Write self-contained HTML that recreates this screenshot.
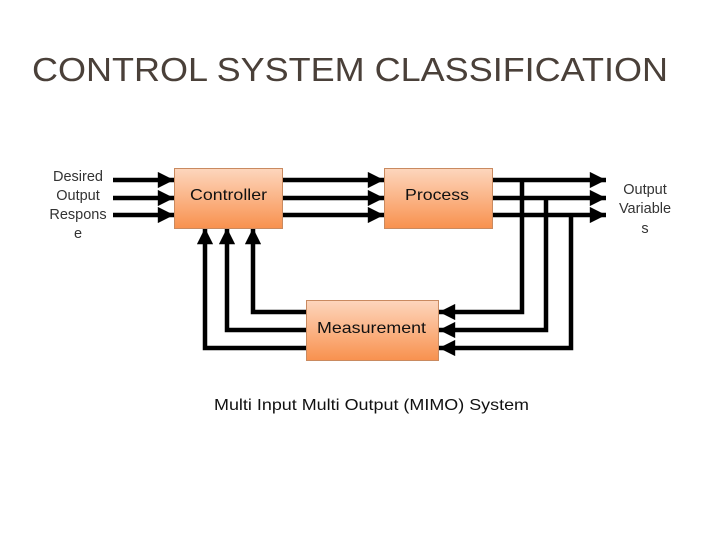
<!DOCTYPE html>
<html><head><style>
body{margin:0;width:720px;height:540px;background:#fff;overflow:hidden}
svg,text{font-family:"Liberation Sans",Arial,sans-serif}
</style></head><body>
<svg width="720" height="540" xmlns="http://www.w3.org/2000/svg" font-family="Liberation Sans, sans-serif">
<defs>
<linearGradient id="g" x1="0" y1="0" x2="0" y2="1">
<stop offset="0" stop-color="#fdd6bd"/><stop offset="1" stop-color="#f8914e"/>
</linearGradient>
<marker id="a" viewBox="0 0 10 10" refX="10" refY="5" markerWidth="4.2" markerHeight="3.6" markerUnits="strokeWidth" orient="auto"><path d="M0,0L10,5L0,10z" fill="#000"/></marker>
</defs>
<text x="32" y="81" font-size="33" font-weight="300" fill="#4a4039" textLength="636" lengthAdjust="spacingAndGlyphs">CONTROL SYSTEM CLASSIFICATION</text>
<g font-size="14.5" fill="#333" text-anchor="middle">
<text x="78" y="181">Desired</text><text x="78" y="200">Output</text><text x="78" y="219">Respons</text><text x="78" y="238">e</text>
<text x="645" y="194">Output</text><text x="645" y="213">Variable</text><text x="645" y="233">s</text>
</g>
<g stroke="#000" stroke-width="4.5" fill="none" marker-end="url(#a)">
<path d="M113 180H174"/><path d="M113 198H174"/><path d="M113 215H174"/>
<path d="M282 180H384"/><path d="M282 198H384"/><path d="M282 215H384"/>
<path d="M492 180H606"/><path d="M492 198H606"/><path d="M492 215H606"/>
<path d="M522 180V312H439"/><path d="M546 198V330H439"/><path d="M571 215V348H439"/>
<path d="M306 312H253V228"/><path d="M306 330H227V228"/><path d="M306 348H205V228"/>
</g>
<g stroke="#c98a60" stroke-width="1" fill="url(#g)">
<rect x="174.5" y="168.5" width="108" height="60"/>
<rect x="384.5" y="168.5" width="108" height="60"/>
<rect x="306.5" y="300.5" width="132" height="60"/>
</g>
<g font-size="16" fill="#111" lengthAdjust="spacingAndGlyphs">
<text x="190" y="200" textLength="77" lengthAdjust="spacingAndGlyphs">Controller</text>
<text x="405" y="200" textLength="64" lengthAdjust="spacingAndGlyphs">Process</text>
<text x="317" y="333" textLength="109" lengthAdjust="spacingAndGlyphs">Measurement</text>
<text x="214" y="410" textLength="315" lengthAdjust="spacingAndGlyphs">Multi Input Multi Output (MIMO) System</text>
</g>
</svg>
</body></html>
